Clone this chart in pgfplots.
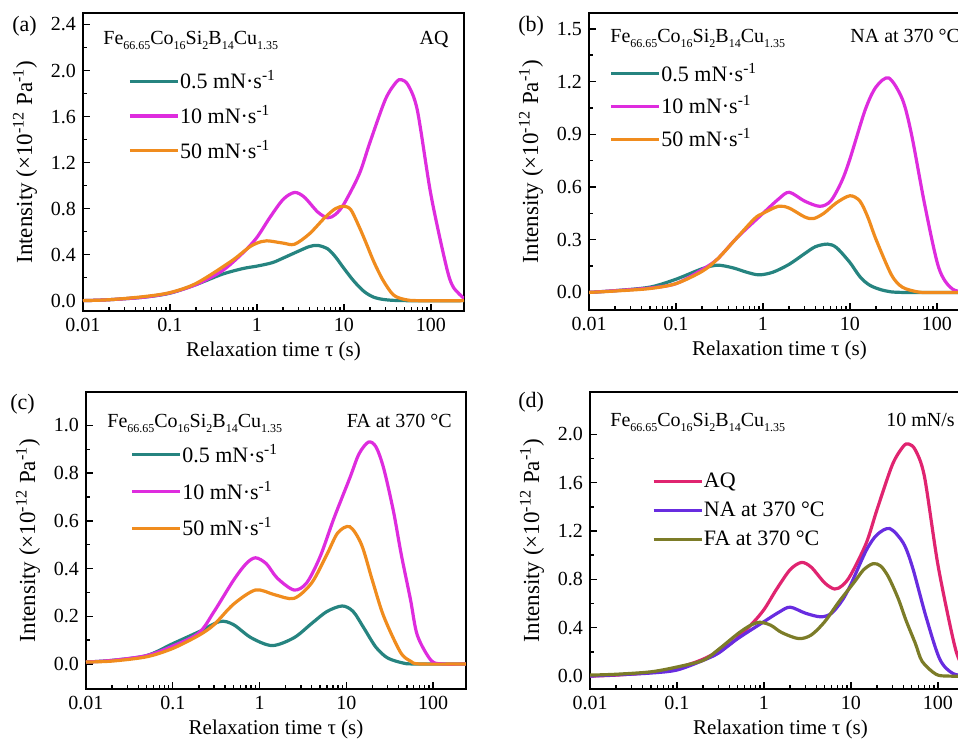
\documentclass[border=0pt]{standalone}
\usepackage{pgfplots}
\usepackage{pgfplotstable}
\pgfplotsset{compat=1.18}
\usepackage{fontspec}
\setmainfont{Liberation Serif}

\definecolor{cteal}{RGB}{38,132,128}
\definecolor{cmag}{RGB}{222,44,222}
\definecolor{corange}{RGB}{240,140,30}
\definecolor{caq}{RGB}{224,36,112}
\definecolor{cna}{RGB}{104,44,224}
\definecolor{cfa}{RGB}{124,124,40}

\pgfplotstableread{
x y
0.01 0.0
0.02 0.008
0.05 0.03
0.1 0.065
0.2 0.14
0.4 0.23
0.7 0.28
1 0.30
1.5 0.33
2 0.37
3 0.43
4 0.47
5 0.48
6.5 0.45
8 0.38
10 0.28
13 0.17
17 0.08
22 0.03
30 0.008
50 0.0
240 0.0
}\tealA
\pgfplotstableread{
x y
0.01 0.0
0.02 0.008
0.05 0.03
0.1 0.067
0.2 0.14
0.4 0.26
0.7 0.42
1 0.55
1.4 0.72
2 0.88
2.7 0.94
3.5 0.9
5 0.77
6.5 0.72
8 0.75
10 0.84
15 1.1
20 1.38
30 1.75
40 1.9
46 1.92
55 1.87
70 1.65
100 0.92
150 0.30
180 0.12
240 0.02
}\magA
\pgfplotstableread{
x y
0.01 0.0
0.02 0.008
0.05 0.035
0.1 0.07
0.2 0.15
0.5 0.34
0.8 0.46
1 0.50
1.3 0.52
2 0.50
2.7 0.49
4 0.58
6 0.72
8 0.80
10 0.82
12 0.79
15 0.64
18 0.50
22 0.34
28 0.18
37 0.05
50 0.01
70 0.0
240 0.0
}\oraA
\pgfplotstableread{
x y
0.01 0.0
0.02 0.01
0.05 0.03
0.1 0.075
0.2 0.135
0.3 0.155
0.45 0.14
0.65 0.115
0.9 0.10
1.3 0.115
2 0.16
3 0.22
4 0.26
5.5 0.275
7 0.255
10 0.17
13 0.09
17 0.04
25 0.01
40 0.0
240 0.0
}\tealB
\pgfplotstableread{
x y
0.01 0.0
0.02 0.01
0.05 0.025
0.1 0.05
0.2 0.13
0.3 0.19
0.5 0.31
1 0.45
1.5 0.53
2 0.57
3 0.52
4.5 0.49
6 0.52
8 0.63
10 0.76
15 1.04
20 1.17
28 1.22
40 1.10
51 0.90
73 0.49
105 0.14
150 0.02
240 0.0
}\magB
\pgfplotstableread{
x y
0.01 0.0
0.02 0.008
0.05 0.022
0.1 0.05
0.2 0.12
0.3 0.19
0.5 0.31
0.8 0.42
1 0.45
1.5 0.49
2 0.48
3 0.43
3.8 0.42
5 0.45
7 0.51
10 0.55
13 0.52
16 0.43
20 0.30
30 0.10
40 0.03
60 0.003
80 0.0
240 0.0
}\oraB
\pgfplotstableread{
x y
0.01 0.008
0.02 0.015
0.05 0.035
0.1 0.085
0.2 0.135
0.35 0.178
0.5 0.165
0.8 0.11
1.4 0.077
2.5 0.11
4 0.17
6 0.22
9 0.243
12 0.22
16 0.15
22 0.07
30 0.025
45 0.004
60 0.0
240 0.0
}\tealC
\pgfplotstableread{
x y
0.01 0.008
0.02 0.015
0.05 0.035
0.1 0.075
0.2 0.13
0.3 0.22
0.5 0.35
0.7 0.42
0.9 0.445
1.2 0.42
1.6 0.36
2.5 0.31
3.5 0.34
5 0.45
7.2 0.61
11 0.78
14 0.88
18 0.93
22 0.91
27 0.82
35 0.64
43 0.46
55 0.27
66 0.12
95 0.015
130 0.0
240 0.0
}\magC
\pgfplotstableread{
x y
0.01 0.008
0.02 0.012
0.05 0.03
0.1 0.065
0.2 0.12
0.3 0.165
0.5 0.25
0.9 0.31
1.5 0.29
2.5 0.275
4 0.34
6 0.46
8 0.55
11 0.575
15 0.50
20 0.35
27 0.20
42 0.05
55 0.012
70 0.0
240 0.0
}\oraC

\pgfplotsset{
  every axis plot/.append style={line width=1.6pt},
  legend image code/.code={\draw[#1, line width=1.6pt] (0pt,0pt) -- (24pt,0pt);},
  scale only axis,
  width=190.5pt, height=148.5pt,
  xmin=0.01, xmax=240,
  xtick={0.01,0.1,1,10,100},
  xticklabels={0.01,0.1,1,10,100},
  tick align=inside,
  xtick pos=left, ytick pos=left,
  major tick length=3.5pt,
  minor tick length=2pt,
  minor y tick num=1,
  axis line style={line width=1.4pt},
  tick style={black, line width=0.7pt},
  tick label style={font=\fontsize{10}{12}\selectfont},
  yticklabel style={/pgf/number format/fixed, /pgf/number format/fixed zerofill, /pgf/number format/precision=1, /pgf/number format/assume math mode=true},
  xlabel={Relaxation time τ (s)},
  ylabel={Intensity (×10\textsuperscript{-12} Pa\textsuperscript{-1})},
  xlabel style={font=\fontsize{10.5}{12}\selectfont, yshift=1.5pt},
  ylabel style={font=\fontsize{11.5}{13}\selectfont},
  legend cell align=left,
  legend style={draw=none, fill=none, font=\fontsize{11}{12}\selectfont, anchor=north west, inner sep=0pt,
    nodes={inner sep=0.3pt}},
}

\newcommand{\sub}[1]{\raisebox{-0.45ex}{\fontsize{6}{7}\selectfont #1}}
\newcommand{\alloy}{Fe\sub{66.65}Co\sub{16}Si\sub{2}B\sub{14}Cu\sub{1.35}}

\begin{document}
\begin{tikzpicture}
\path[use as bounding box] (0pt,0pt) rectangle (479pt,369.5pt);

% (a)
\begin{semilogxaxis}[at={(41.5pt,214pt)}, anchor=south west, height=149pt,
  ymin=-0.09, ymax=2.5, ytick={0,0.4,...,2.4},
  legend style={at={(0.118,0.81)}, row sep=6.25pt}]
\addplot[cteal, smooth] table {\tealA};
\addplot[cmag, smooth] table {\magA};
\addplot[corange, smooth] table {\oraA};
\legend{0.5 mN·s\textsuperscript{-1}, 10 mN·s\textsuperscript{-1}, 50 mN·s\textsuperscript{-1}}
\end{semilogxaxis}

% (b)
\begin{semilogxaxis}[at={(294.5pt,214.5pt)}, anchor=south west,
  ymin=-0.1, ymax=1.59, ytick={0,0.3,...,1.5},
  legend style={at={(0.053,0.835)}, row sep=5.25pt}]
\addplot[cteal, smooth] table {\tealB};
\addplot[cmag, smooth] table {\magB};
\addplot[corange, smooth] table {\oraB};
\legend{0.5 mN·s\textsuperscript{-1}, 10 mN·s\textsuperscript{-1}, 50 mN·s\textsuperscript{-1}}
\end{semilogxaxis}

% (c)
\begin{semilogxaxis}[at={(43pt,25pt)}, anchor=south west, width=190pt,
  ymin=-0.105, ymax=1.14, ytick={0,0.2,...,1.0},
  legend style={at={(0.116,0.828)}, row sep=7.25pt}]
\addplot[cteal, smooth] table {\tealC};
\addplot[cmag, smooth] table {\magC};
\addplot[corange, smooth] table {\oraC};
\legend{0.5 mN·s\textsuperscript{-1}, 10 mN·s\textsuperscript{-1}, 50 mN·s\textsuperscript{-1}}
\end{semilogxaxis}

% (d)
\begin{semilogxaxis}[at={(295pt,25pt)}, anchor=south west,
  ymin=-0.107, ymax=2.35, ytick={0,0.4,...,2.0},
  legend style={at={(0.162,0.731)}, row sep=5pt}]
\addplot[caq, smooth] table {\magA};
\addplot[cna, smooth] table {\magB};
\addplot[cfa, smooth] table {\magC};
\legend{AQ, NA at 370 °C, FA at 370 °C}
\end{semilogxaxis}

\node[anchor=base west, inner sep=0pt, font=\fontsize{11}{12}\selectfont] at (6pt,353.5pt) {(a)};
\node[anchor=base west, inner sep=0pt, font=\fontsize{10}{12}\selectfont] at (51.5pt,347pt) {\alloy};
\node[anchor=base east, inner sep=0pt, font=\fontsize{10}{12}\selectfont] at (224.5pt,347pt) {AQ};
\node[anchor=base west, inner sep=0pt, font=\fontsize{11}{12}\selectfont] at (259pt,353.5pt) {(b)};
\node[anchor=base west, inner sep=0pt, font=\fontsize{10}{12}\selectfont] at (305pt,348pt) {\alloy};
\node[anchor=base west, inner sep=0pt, font=\fontsize{10}{12}\selectfont] at (425pt,348pt) {NA at 370 °C};
\node[anchor=base west, inner sep=0pt, font=\fontsize{11}{12}\selectfont] at (5pt,164.5pt) {(c)};
\node[anchor=base west, inner sep=0pt, font=\fontsize{10}{12}\selectfont] at (53.5pt,155.5pt) {\alloy};
\node[anchor=base east, inner sep=0pt, font=\fontsize{10}{12}\selectfont] at (226pt,155.5pt) {FA at 370 °C};
\node[anchor=base west, inner sep=0pt, font=\fontsize{11}{12}\selectfont] at (259pt,165.5pt) {(d)};
\node[anchor=base west, inner sep=0pt, font=\fontsize{10}{12}\selectfont] at (305pt,156pt) {\alloy};
\node[anchor=base west, inner sep=0pt, font=\fontsize{10}{12}\selectfont] at (443pt,156pt) {10 mN/s};
\end{tikzpicture}
\end{document}
